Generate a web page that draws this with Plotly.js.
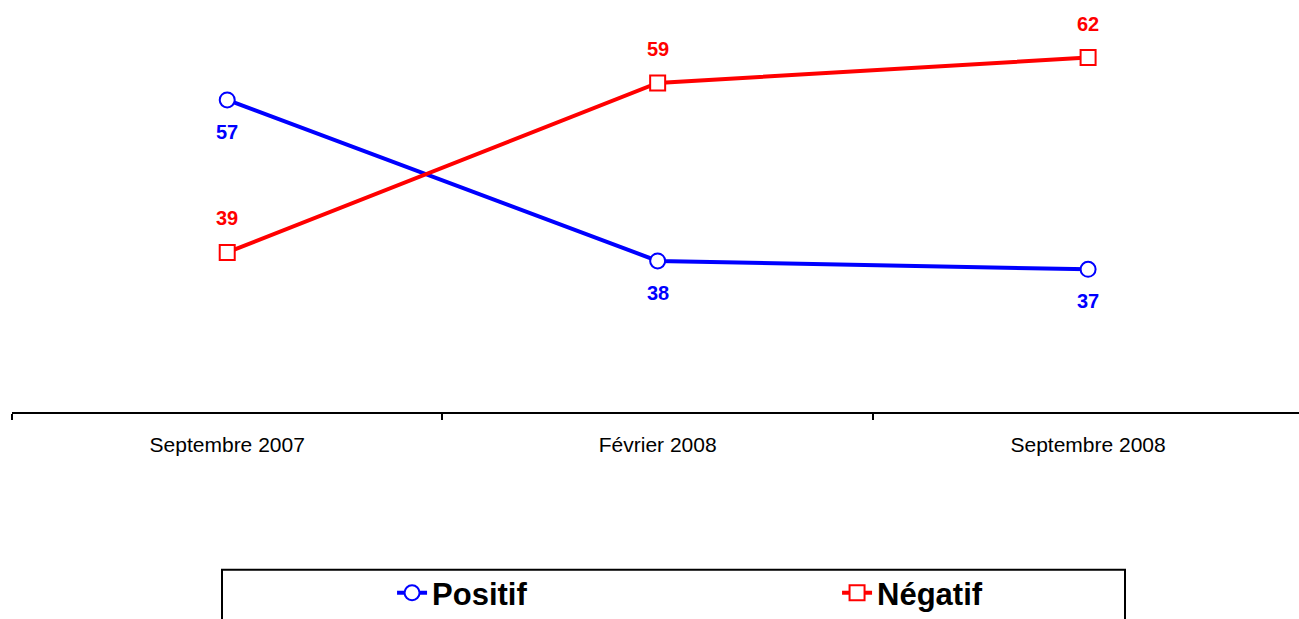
<!DOCTYPE html>
<html><head><meta charset="utf-8">
<script src="https://cdn.plot.ly/plotly-3.0.1.min.js"></script>
<style>html,body{margin:0;padding:0;background:#fff;}#chart{width:1299px;height:619px;}</style>
</head><body><div id="chart"></div>
<script>
const categories = ["Septembre 2007", "Février 2008", "Septembre 2008"];
const positif = [57, 38, 37];
const negatif = [39, 59, 62];
const seriesNames = ["Positif", "Négatif"];

const traces = [
  {x: categories, y: positif, name: seriesNames[0], type: "scatter", mode: "lines+markers",
   line: {color: "#0000ff", width: 4},
   marker: {symbol: "circle", size: 15, color: "#ffffff", line: {color: "#0000ff", width: 2}}},
  {x: categories, y: negatif, name: seriesNames[1], type: "scatter", mode: "lines+markers",
   line: {color: "#ff0000", width: 4},
   marker: {symbol: "square", size: 15, color: "#ffffff", line: {color: "#ff0000", width: 2}}}
];

const annotations = [];
categories.forEach((c, i) => {
  annotations.push({x: c, y: positif[i], text: "<b>" + positif[i] + "</b>", showarrow: false,
    yshift: -32, font: {family: "Liberation Sans, Arial", size: 20, color: "#0000ff"}});
  annotations.push({x: c, y: negatif[i], text: "<b>" + negatif[i] + "</b>", showarrow: false,
    yshift: 34, font: {family: "Liberation Sans, Arial", size: 20, color: "#ff0000"}});
});

const layout = {
  width: 1299, height: 619,
  margin: {l: 12, r: 0, t: 0, b: 207, autoexpand: false},
  paper_bgcolor: "#fff", plot_bgcolor: "#fff",
  showlegend: true,
  xaxis: {type: "category", range: [-0.5, 2.49], showgrid: false, zeroline: false,
    showline: true, linecolor: "#000", linewidth: 2, automargin: false,
    ticks: "outside", tickson: "boundaries", ticklen: 6, tickwidth: 2, tickcolor: "#000",
    ticklabelstandoff: 13,
    tickfont: {family: "Liberation Sans, Arial", size: 21, color: "#000"}},
  yaxis: {range: [20.16, 68.8], visible: false, showgrid: false, zeroline: false, automargin: false},
  legend: {orientation: "h", x: 0.2953, xanchor: "left", y: -0.374, yanchor: "top",
    entrywidth: 400, entrywidthmode: "pixels", bgcolor: "rgba(0,0,0,0)", borderwidth: 0,
    font: {family: "Liberation Sans, Arial", size: 31, color: "#000", weight: "bold"}},
  shapes: [{type: "rect", xref: "paper", yref: "paper",
    x0: (222 - 12) / 1287, x1: (1125 - 12) / 1287, y0: -0.383, y1: -0.56,
    line: {color: "#000", width: 2}, fillcolor: "rgba(0,0,0,0)"}],
  annotations: annotations
};

Plotly.newPlot("chart", traces, layout, {displayModeBar: false, staticPlot: true});
</script></body></html>
